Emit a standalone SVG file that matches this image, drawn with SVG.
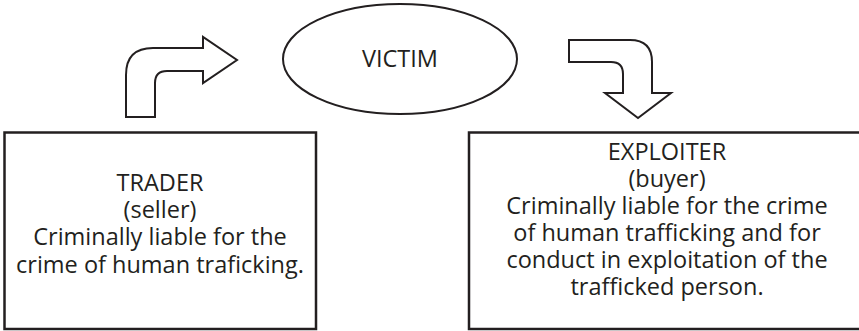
<svg xmlns="http://www.w3.org/2000/svg" width="859" height="331" viewBox="0 0 859 331">
<style>
.shape{fill:#fff;stroke:#231f20;stroke-width:2;stroke-linejoin:miter}
.box{fill:#fff;stroke:#231f20;stroke-width:2.5}
text{font-family:"Open Sans","Liberation Sans",sans-serif;font-size:23.5px;fill:#231f20;text-anchor:middle}
</style>
<rect width="859" height="331" fill="#fff"/>
<g id="connectors">
<path class="shape" d="M126,117 L126,75 Q126,48 153,48 L203,48 L203,37 L237,60 L203,83 L203,71 L167,71 Q155,71 155,83 L155,117 Z"/>
<path class="shape" d="M569,40 L630,40 Q652,40 652,62 L652,93 L671,93 L638,118 L605,93 L623,93 L623,74 Q623,62 611,62 L569,62 Z"/>
</g>
<g id="victim">
<ellipse class="shape" cx="400" cy="59" rx="117" ry="55"/>
<text x="400" y="67">VICTIM</text>
</g>
<g id="trader">
<rect class="box" x="4.5" y="132.5" width="311.5" height="196.5"/>
<text x="160" y="191">TRADER</text>
<text x="160" y="218">(seller)</text>
<text x="160" y="245">Criminally liable for the</text>
<text x="160" y="273">crime of human traficking.</text>
</g>
<g id="exploiter">
<rect class="box" x="469" y="132.5" width="398" height="196.5"/>
<text x="667" y="160">EXPLOITER</text>
<text x="667" y="187">(buyer)</text>
<text x="667" y="214">Criminally liable for the crime</text>
<text x="667" y="241">of human trafficking and for</text>
<text x="667" y="268">conduct in exploitation of the</text>
<text x="667" y="295">trafficked person.</text>
</g>
</svg>
